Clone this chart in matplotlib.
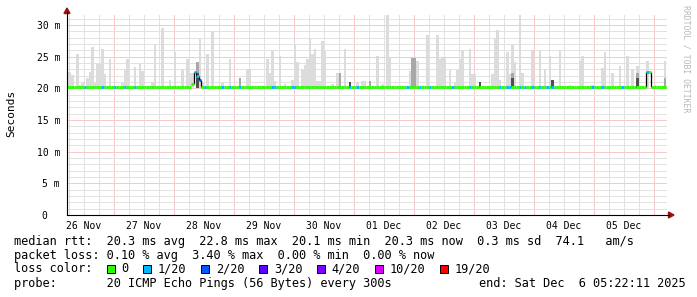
import numpy as np
import matplotlib
matplotlib.use('Agg')
import matplotlib.pyplot as plt
from matplotlib.patches import Rectangle, Polygon
from matplotlib.collections import LineCollection
from matplotlib.lines import Line2D

W, H = 697, 297
MONO = 'DejaVu Sans Mono'

# time axis: hours since 26 Nov 00:00 (1 hour consolidation steps)
t_start, t_end = 5.37, 245.37
day_labels = ['26 Nov', '27 Nov', '28 Nov', '29 Nov', '30 Nov',
              '01 Dec', '02 Dec', '03 Dec', '04 Dec', '05 Dec']

# smoke (max ping per hour, ms)
smoke_hours = [5, 6, 7, 9, 10, 11, 13, 14, 15, 16, 17, 18, 19, 20, 22,
               27, 28, 29, 32, 34, 35, 39, 40, 43, 46, 48, 51, 53, 54, 55,
               57, 58, 59, 61, 63, 67, 70, 74, 77, 78, 85, 86, 87, 88, 90,
               92, 95, 96, 97, 99, 100, 101, 102, 103, 104, 105, 106, 107,
               108, 111, 113, 114, 116, 118, 121, 123, 124, 126, 129, 131,
               133, 134, 142, 143, 144, 145, 149, 153, 154, 155, 156, 158,
               160, 161, 162, 163, 166, 167, 168, 170, 175, 176, 177, 178,
               181, 182, 183, 184, 186, 187, 191, 194, 196, 198, 199, 202,
               206, 210, 211, 215, 219, 220, 223, 226, 229, 231, 233, 237,
               240, 244]
smoke_max = [22.6, 22.6, 22.1, 25.4, 20.5, 20.9, 21.6, 22.6, 26.6, 20.9,
             23.8, 23.8, 26.2, 22.2, 24.7,
             20.9, 22.9, 24.7, 23.4, 23.8, 22.7, 21.0, 26.8, 29.6, 21.3,
             25.8, 22.9, 24.6, 22.4, 22.4,
             24.1, 27.8, 20.9, 25.4, 29.1, 20.8, 24.6, 21.6, 23.1, 23.1,
             24.6, 22.5, 26.1, 21.1, 25.2,
             20.7, 21.4, 26.8, 24.1, 22.9, 23.7, 24.7, 28.0, 25.4, 26.3,
             21.1, 21.1, 27.5,
             25.9, 20.7, 22.5, 22.5, 26.2, 21.0, 21.0, 21.2, 21.2, 21.1,
             25.2, 20.7,
             31.6, 25.0, 22.7, 24.8, 24.8, 24.4, 28.4, 28.4, 24.7, 24.8,
             24.8, 22.9,
             20.9, 22.9, 24.6, 26.1, 26.3, 22.2, 22.2, 21.0, 22.2, 28.0,
             29.2, 21.3,
             25.7, 22.2, 26.8, 24.1, 31.6, 22.5, 26.1, 25.9, 23.1, 25.1,
             21.4, 25.9,
             20.6, 24.3, 25.1, 20.5, 23.3, 25.7, 22.4, 23.6, 25.1, 23.0,
             23.5, 24.3,
             20.5, 24.3]
smoke_floor = 20.0
mid_hours = [57, 74, 114, 126, 143, 144, 183, 233, 244]
mid_top = [24.1, 21.6, 22.5, 21.1, 24.8, 24.8, 22.5, 22.5, 21.7]
dense_hours = [57, 118, 170, 183, 199, 233]
dense_top = [22.5, 21.0, 21.0, 21.7, 21.4, 21.6]

# median rtt, as steps: hour where a value starts, value in ms
median_from = [5, 11, 16, 27, 35, 55, 56, 57, 58, 59, 67, 118, 135,
               148, 156, 175, 180, 196, 207, 222, 235, 237, 239]
median_ms = [20.3, 20.2, 20.3, 20.2, 20.3, 20.7, 22.6, 22.0, 21.4, 20.2,
             20.3, 20.2, 20.3, 20.15, 20.3, 20.2, 20.3, 20.2, 20.3,
             20.2, 20.3, 22.6, 20.3]

# hours with packet loss (1/20 and 2/20)
loss1_hours = [12, 19, 24, 28, 32, 56, 57, 60, 67, 70, 74, 87, 88, 95, 96,
               118, 121, 141, 146, 150, 159, 166, 178, 181, 182, 186, 188,
               191, 194, 197, 199, 215, 219, 227, 237]
loss2_hours = [58]

loss_labels = ['0', '1/20', '2/20', '3/20', '4/20', '10/20', '19/20']
loss_colors = ['#26ff00', '#00b8ff', '#0059ff', '#5e00ff', '#7e00ff',
               '#dd00ff', '#ff0000']

legend_rtt = ('median rtt:  20.3 ms avg  22.8 ms max  20.1 ms min  '
              '20.3 ms now  0.3 ms sd  74.1   am/s')
legend_loss = 'packet loss: 0.10 % avg  3.40 % max  0.00 % min  0.00 % now'
legend_probe = 'probe:       20 ICMP Echo Pings (56 Bytes) every 300s'
legend_end = 'end: Sat Dec  6 05:22:11 2025'


def fx(x):
    return x / W


def fy(y):
    return 1 - y / H


fig = plt.figure(figsize=(W / 100, H / 100), dpi=100)
fig.patch.set_facecolor('white')
ax = fig.add_axes([fx(67), fy(215), 600 / W, 200 / H])
ax.set_xlim(t_start, t_end)
ax.set_ylim(0, 31.6)
for s in ax.spines.values():
    s.set_visible(False)

# grid (rrdtool draws it dotted; a pale solid line gives the same tone)
for h in range(6, 246, 6):
    c = '#f6caca' if h % 24 == 0 else '#e2e2e2'
    ax.axvline(h, color=c, lw=0.72, zorder=0.5)
for v in range(1, 32):
    c = '#f6caca' if v % 5 == 0 else '#e2e2e2'
    ax.axhline(v, color=c, lw=0.72, zorder=0.5)

# smoke
ax.bar(smoke_hours, np.array(smoke_max) - smoke_floor, bottom=smoke_floor,
       width=1, align='edge', color='#dcdcdc', lw=0, zorder=1)
ax.bar(mid_hours, np.array(mid_top) - smoke_floor, bottom=smoke_floor,
       width=1, align='edge', color='#a8a8a8', lw=0, zorder=1.1)
ax.bar(dense_hours, np.array(dense_top) - smoke_floor, bottom=smoke_floor,
       width=1, align='edge', color='#505050', lw=0, zorder=1.2)

# median line: black connectors at big jumps, coloured by loss on top
hours = np.arange(5, 246)
med = np.array(median_ms)[np.searchsorted(median_from, hours, side='right') - 1]
jumps = np.nonzero(np.abs(np.diff(med)) > 0.5)[0]
ax.vlines(hours[jumps + 1], med[jumps], med[jumps + 1], color='black', lw=0.9, zorder=2)
segs, cols = [], []
for h, m in zip(hours, med):
    segs.append([(h, m), (h + 1, m)])
    if h in loss2_hours:
        cols.append(loss_colors[2])
    elif h in loss1_hours:
        cols.append(loss_colors[1])
    else:
        cols.append(loss_colors[0])
ax.add_collection(LineCollection(segs, colors=cols, linewidths=2.1,
                                 capstyle='butt', zorder=3))

# ticks
ax.set_xticks([12 + 24 * i for i in range(len(day_labels))])
ax.set_xticklabels(day_labels, family=MONO, fontsize=7)
ax.set_yticks([0, 5, 10, 15, 20, 25, 30])
ax.set_yticklabels(['0  ', '5 m', '10 m', '15 m', '20 m', '25 m', '30 m'],
                   family=MONO, fontsize=7)
ax.tick_params(length=0, pad=4)
ax.tick_params(axis='y', pad=5)

# axes lines and arrows
fig.add_artist(Line2D([fx(67), fx(669)], [fy(215), fy(215)], color='black', lw=0.8))
fig.add_artist(Line2D([fx(67), fx(67)], [fy(215), fy(12)], color='black', lw=0.8))
arrow_c = '#991111'
fig.add_artist(Polygon([(fx(668.5), fy(212)), (fx(668.5), fy(218)), (fx(674), fy(215))],
                       closed=True, color=arrow_c, transform=fig.transFigure))
fig.add_artist(Polygon([(fx(64), fy(13.5)), (fx(70), fy(13.5)), (fx(67), fy(8))],
                       closed=True, color=arrow_c, transform=fig.transFigure))

fig.text(fx(11), fy(113), 'Seconds', family=MONO, fontsize=8, rotation=90,
         ha='center', va='center')
fig.text(fx(686), fy(59), 'RRDTOOL / TOBI OETIKER', family=MONO, fontsize=5.9,
         rotation=270, ha='center', va='center', color='#b8b8b8')

# legend
lx, cw, fs = 14.3, 7.15, 8.55
fig.text(fx(lx), fy(241.7), legend_rtt, family=MONO, fontsize=fs, va='center')
fig.text(fx(lx), fy(255.7), legend_loss, family=MONO, fontsize=fs, va='center')
fig.text(fx(lx), fy(269), 'loss color:', family=MONO, fontsize=fs, va='center')
tx = lx + 15 * cw
for lab, col in zip(loss_labels, loss_colors):
    fig.add_artist(Rectangle((fx(tx - 15), fy(273)), 8 / W, 8 / H, facecolor=col,
                             edgecolor='black', lw=0.7, transform=fig.transFigure))
    fig.text(fx(tx), fy(269), lab, family=MONO, fontsize=fs, va='center')
    tx += (len(lab) + 4.1) * cw
fig.text(fx(lx), fy(283.3), legend_probe, family=MONO, fontsize=fs, va='center')
fig.text(fx(lx + 65 * cw), fy(283.3), legend_end, family=MONO, fontsize=fs, va='center')

fig.savefig('out.png', dpi=100)
